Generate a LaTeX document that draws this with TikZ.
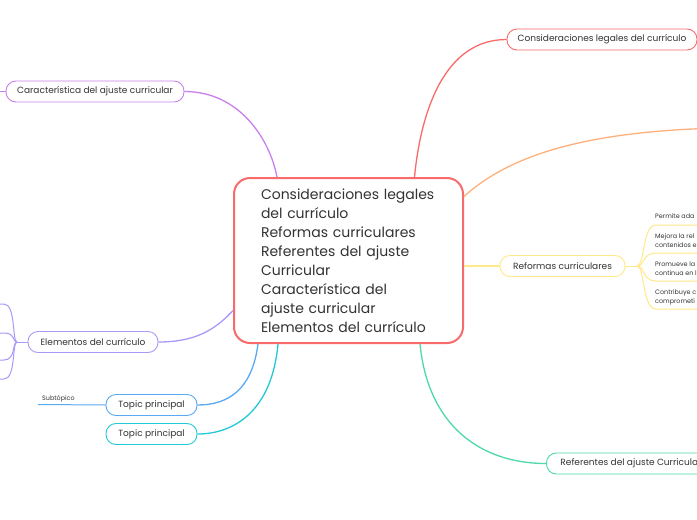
\documentclass[tikz,border=0pt]{standalone}
\usepackage{fontspec}
\setmainfont{Poppins}
\definecolor{txt}{HTML}{333333}
\definecolor{cred}{HTML}{F96B6B}
\definecolor{corange}{HTML}{FFB07A}
\definecolor{cyellow}{HTML}{FFE98A}
\definecolor{cgreen}{HTML}{4ED9A8}
\definecolor{ccyan}{HTML}{22C9D6}
\definecolor{cblue}{HTML}{5AA9F5}
\definecolor{cviolet}{HTML}{A79BFA}
\definecolor{cpurple}{HTML}{C980EB}
\tikzset{
  topicbox/.style={draw, fill=white, rounded corners=10pt, line width=0.9pt, minimum height=21pt, inner sep=0pt, text=txt, font=\fontsize{9}{11}\selectfont},
  link/.style={line width=1.3pt},
  subtxt/.style={anchor=base west, inner sep=0pt, text=txt, font=\fontsize{6.4}{9}\selectfont, align=left},
}
\begin{document}
\begin{tikzpicture}[x=1pt,y=-1pt]
\clip (0,0) rectangle (697,520);
\fill[white] (0,0) rectangle (697,520);

% central node
\node[draw=cred, line width=2pt, rounded corners=16pt, minimum width=229pt, minimum height=165pt,
      inner xsep=27pt, text width=175pt, align=left, text=txt, font=\fontsize{14}{19}\selectfont]
  (c) at (348.5,260.5) {Consideraciones legales\\del currículo\\Reformas curriculares\\Referentes del ajuste\\Curricular\\Característica del\\ajuste curricular\\Elementos del currículo};

% main topics
\node[topicbox, draw=cred, minimum width=190pt] (legal) at (602,39.5) {Consideraciones legales del currículo};
\node[topicbox, draw=cpurple, minimum width=178pt] (carac) at (95,91.5) {Característica del ajuste curricular};
\node[topicbox, draw=cyellow, minimum width=125pt] (reform) at (562.5,266) {Reformas curriculares};
\node[topicbox, draw=cviolet, minimum width=130pt] (elem) at (93,342) {Elementos del currículo};
\node[topicbox, draw=cblue, minimum width=91pt] (topa) at (151.5,405) {Topic principal};
\node[topicbox, draw=ccyan, minimum width=91pt] (topb) at (151.5,434) {Topic principal};
\node[topicbox, draw=cgreen, anchor=west, inner xsep=14pt] (refer) at (546,463.5) {Referentes del ajuste Curricular};

% connectors from central node
\draw[link, cred] ([xshift=66pt]c.north) .. controls (421,110) and (445,39.5) .. (legal.west);
\coordinate (orangeend) at (720,128);
\draw[link, corange] ([yshift=64pt]c.east) .. controls (515,150) and (600,131) .. (orangeend);
\draw[link, cyellow] (c.east |- reform.west) -- (reform.west);
\draw[link, cgreen] ([xshift=71.5pt]c.south) .. controls (428,425) and (480,463.5) .. (refer.west);
\draw[link, ccyan] ([xshift=-70.5pt]c.south) .. controls (272,410) and (235,434) .. (topb.east);
\draw[link, cblue] ([xshift=-90.5pt]c.south) .. controls (252,390) and (228,405) .. (topa.east);
\draw[link, cviolet] ([yshift=-50pt]c.west) .. controls (215,330) and (195,342) .. (elem.east);
\draw[link, cpurple] ([xshift=-71.5pt]c.north) .. controls (270,140) and (240,91.5) .. (carac.east);

% Característica: stub to the left
\coordinate (caracout) at (-5,91.5);
\draw[line width=1pt, cpurple] (carac.west) -- (caracout);

% Reformas subtopics
\coordinate (rj) at (637,266);
\draw[line width=1pt, cyellow] (reform.east) -- (rj);
\foreach \yy/\nm in {225/ra,253/rb,281/rc,309/rd}{
  \coordinate (\nm) at (700,\yy);
  \draw[line width=1pt, cyellow] (rj) .. controls (645,266) and (642,\yy) .. (656,\yy) -- (\nm);
}
\node[subtxt] (t1) at (655,218.5) {Permite ada};
\node[subtxt] (t2) at (655,247.5) {Mejora la rel\\contenidos e};
\node[subtxt] (t3) at (655,275.5) {Promueve la\\continua en l};
\node[subtxt] (t4) at (655,303.5) {Contribuye c\\comprometi};

% Elementos subtopics
\coordinate (ej) at (17,342);
\draw[line width=1pt, cviolet] (elem.west) -- (ej);
\foreach \yy/\nm in {304/ea,333/eb,360/ec,379/ed}{
  \coordinate (\nm) at (-5,\yy);
  \draw[line width=1pt, cviolet] (ej) .. controls (12,342) and (16,\yy) .. (4,\yy) -- (\nm);
}

% Subtópico
\coordinate (subend) at (38,404.5);
\draw[line width=1pt, cblue] (topa.west) -- (subend);
\node[subtxt] (sub) at (42,400) {Subtópico};
\end{tikzpicture}
\end{document}
